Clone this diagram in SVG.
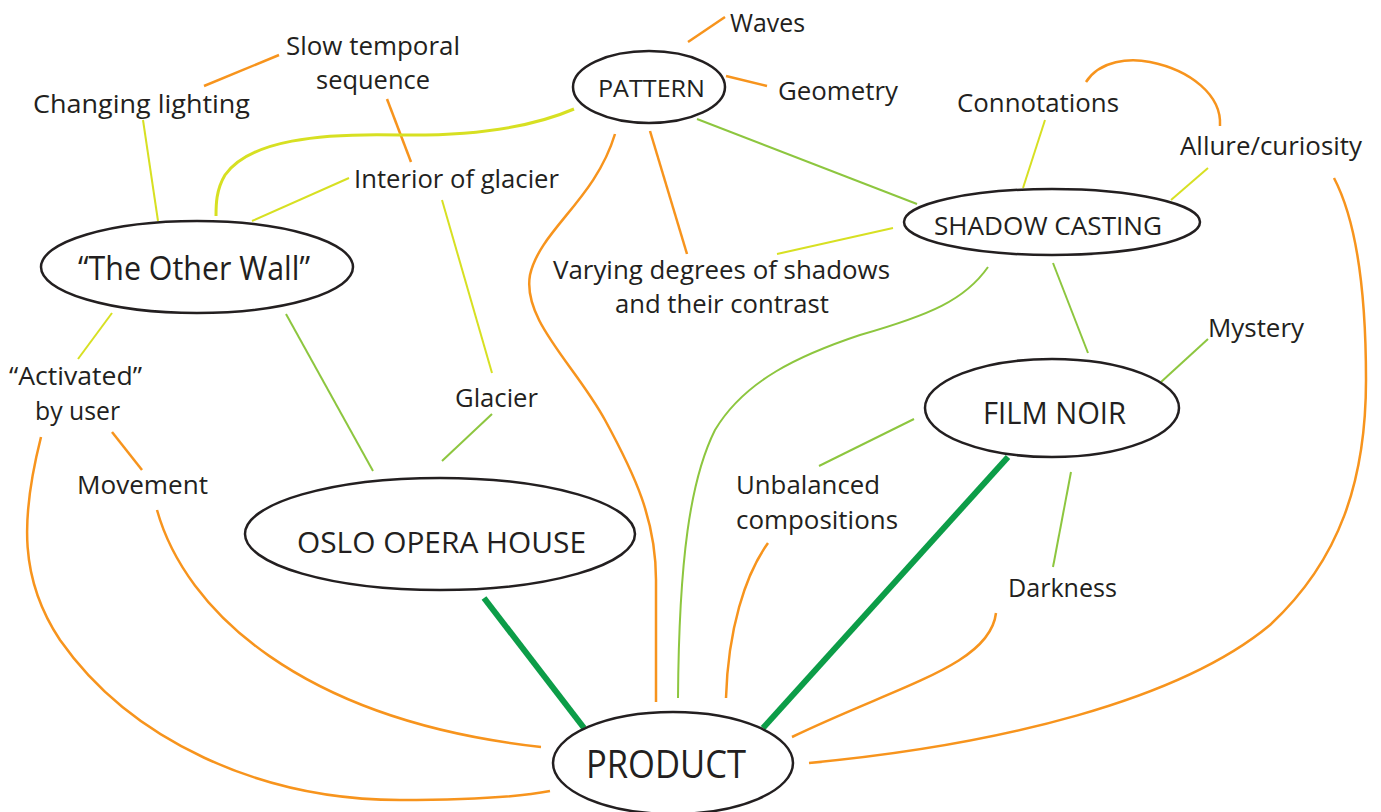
<svg xmlns="http://www.w3.org/2000/svg" width="1381" height="812" viewBox="0 0 1381 812">
<style>
text{font-family:"Open Sans","Liberation Sans",sans-serif;fill:#231F20;}
.l{font-size:26px;}
.node{fill:#fff;stroke:#231F20;stroke-width:2.5;}
.o{fill:none;stroke:#F7941D;stroke-width:2.5;}
.y{fill:none;stroke:#D7E022;stroke-width:2;}
.g{fill:none;stroke:#8DC63F;stroke-width:2;}
.dg{fill:none;stroke:#0C9D48;stroke-width:6;}
</style>
<rect width="1381" height="812" fill="#fff"/>
<g id="connectors">
<path class="o" d="M688,42 L725,17"/>
<path class="o" d="M726,76 L767,86"/>
<path class="o" d="M204,86 L279,55"/>
<path class="o" d="M387,99 L411,162"/>
<path class="o" d="M650,131 L687,254"/>
<path class="o" d="M615,134 C595,200 540,230 530,275 C522,320 575,365 605,420 C635,475 656,520 656,580 L656,702"/>
<path class="o" d="M1086,82 C1100,60 1130,58 1150,62 C1190,70 1222,95 1220,126"/>
<path class="o" d="M1334,178 C1356,220 1366,290 1366,380 C1366,480 1340,560 1270,625 C1180,700 1000,745 809,763"/>
<path class="o" d="M768,543 C745,575 728,630 726,698"/>
<path class="o" d="M996,613 C990,665 900,685 792,737"/>
<path class="o" d="M112,432 L142,470"/>
<path class="o" d="M157,510 C185,610 300,720 541,747"/>
<path class="o" d="M41,437 C20,520 20,580 60,640 C130,740 260,800 400,800 C470,800 520,797 550,791"/>
<path class="y" d="M143,120 L158,221"/>
<path class="y" style="stroke-width:3" d="M574,109 C530,128 470,136 400,135 C320,133 250,140 225,175 C216,190 216,205 216,216"/>
<path class="y" d="M252,221 L349,178"/>
<path class="y" d="M442,200 L492,373"/>
<path class="y" d="M112,313 L78,359"/>
<path class="y" d="M1045,120 L1023,188"/>
<path class="y" d="M1208,168 L1171,200"/>
<path class="y" d="M893,228 L777,254"/>
<path class="g" d="M697,119 L917,204"/>
<path class="g" d="M1053,263 L1088,353"/>
<path class="g" d="M988,267 C965,300 930,315 860,335 C800,355 745,380 715,430 C690,480 679,560 678,698"/>
<path class="g" d="M1208,339 L1161,382"/>
<path class="g" d="M914,419 L819,466"/>
<path class="g" d="M1071,472 L1053,567"/>
<path class="g" d="M286,314 L373,471"/>
<path class="g" d="M492,414 L442,461"/>
<path class="dg" d="M1008,457 L763,728"/>
<path class="dg" d="M484,598 L584,728"/>
</g>
<g id="pattern"><ellipse class="node" cx="649" cy="87" rx="76" ry="36"/><text x="598" y="97" font-size="24" textLength="107" lengthAdjust="spacingAndGlyphs">PATTERN</text></g>
<g id="shadow-casting"><ellipse class="node" cx="1052" cy="222" rx="148" ry="33"/><text x="934" y="235" font-size="26" textLength="228" lengthAdjust="spacingAndGlyphs">SHADOW CASTING</text></g>
<g id="other-wall"><ellipse class="node" cx="197" cy="267" rx="156" ry="46"/><text x="78" y="280" font-size="32" textLength="232" lengthAdjust="spacingAndGlyphs">“The Other Wall”</text></g>
<g id="oslo"><ellipse class="node" cx="440" cy="534" rx="195" ry="56"/><text x="297" y="553" font-size="30" textLength="289" lengthAdjust="spacingAndGlyphs">OSLO OPERA HOUSE</text></g>
<g id="film-noir"><ellipse class="node" cx="1052" cy="408" rx="127" ry="49"/><text x="983" y="424" font-size="31" textLength="143" lengthAdjust="spacingAndGlyphs">FILM NOIR</text></g>
<g id="product"><ellipse class="node" cx="673" cy="763" rx="120" ry="51"/><text x="586" y="778" font-size="38" textLength="160" lengthAdjust="spacingAndGlyphs">PRODUCT</text></g>
<g id="labels">
<text class="l" x="730" y="32" textLength="75" lengthAdjust="spacingAndGlyphs">Waves</text>
<text class="l" x="286" y="55" textLength="174" lengthAdjust="spacingAndGlyphs">Slow temporal</text>
<text class="l" x="316" y="89" textLength="114" lengthAdjust="spacingAndGlyphs">sequence</text>
<text class="l" x="33" y="113" textLength="217" lengthAdjust="spacingAndGlyphs">Changing lighting</text>
<text class="l" x="778" y="100" textLength="120" lengthAdjust="spacingAndGlyphs">Geometry</text>
<text class="l" x="957" y="112" textLength="162" lengthAdjust="spacingAndGlyphs">Connotations</text>
<text class="l" x="1180" y="155" textLength="182" lengthAdjust="spacingAndGlyphs">Allure/curiosity</text>
<text class="l" x="354" y="188" textLength="205" lengthAdjust="spacingAndGlyphs">Interior of glacier</text>
<text class="l" x="553" y="279" textLength="337" lengthAdjust="spacingAndGlyphs">Varying degrees of shadows</text>
<text class="l" x="615" y="313" textLength="214" lengthAdjust="spacingAndGlyphs">and their contrast</text>
<text class="l" x="1208" y="337" textLength="96" lengthAdjust="spacingAndGlyphs">Mystery</text>
<text class="l" x="9" y="385" textLength="133" lengthAdjust="spacingAndGlyphs">“Activated”</text>
<text class="l" x="35" y="420" textLength="85" lengthAdjust="spacingAndGlyphs">by user</text>
<text class="l" x="455" y="407" textLength="83" lengthAdjust="spacingAndGlyphs">Glacier</text>
<text class="l" x="77" y="494" textLength="131" lengthAdjust="spacingAndGlyphs">Movement</text>
<text class="l" x="736" y="494" textLength="144" lengthAdjust="spacingAndGlyphs">Unbalanced</text>
<text class="l" x="736" y="529" textLength="162" lengthAdjust="spacingAndGlyphs">compositions</text>
<text class="l" x="1008" y="597" textLength="109" lengthAdjust="spacingAndGlyphs">Darkness</text>
</g>
</svg>
